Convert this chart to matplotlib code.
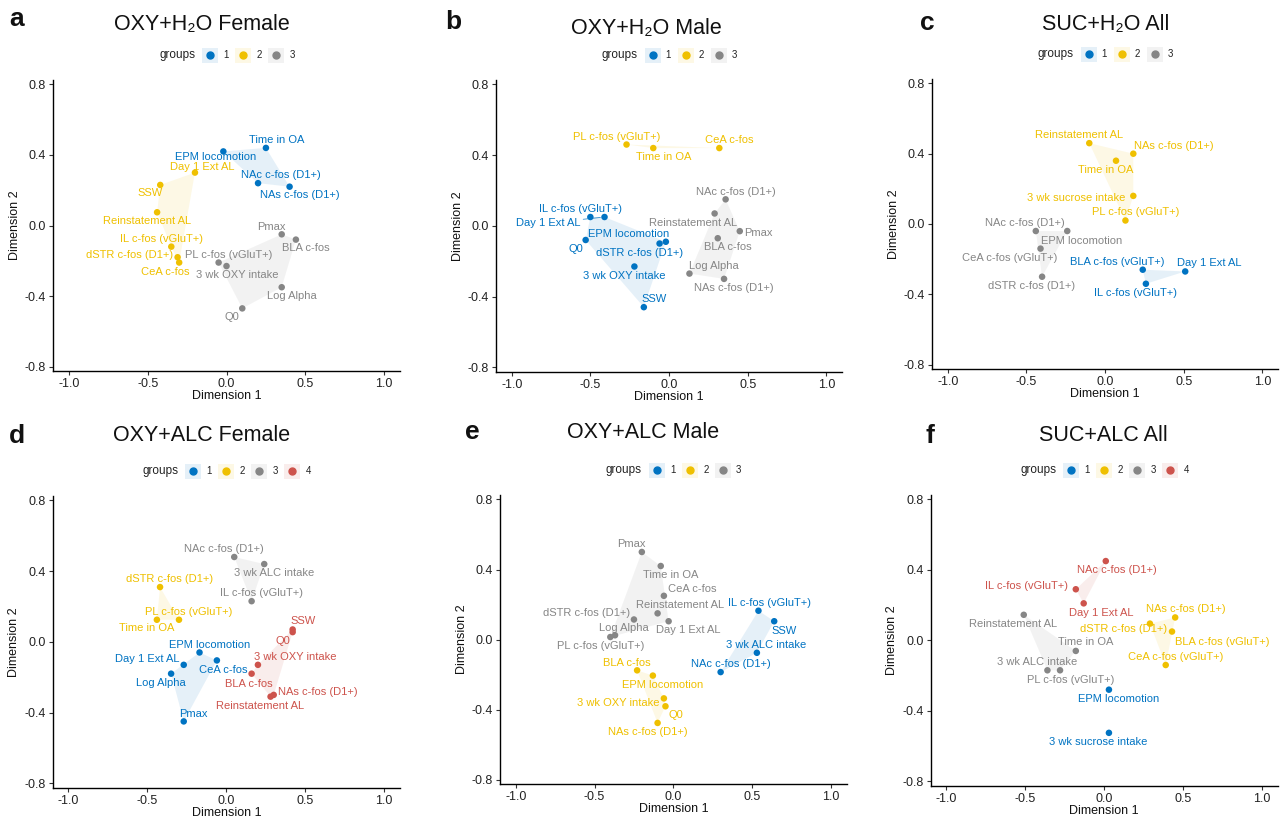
"""
MDS maps of behavioural / c-fos variables, six cohorts, convex hull per cluster
"""

### Import modules
import numpy as np
import matplotlib
matplotlib.use('Agg')
import matplotlib.pyplot as plt
from matplotlib.patches import Polygon, Rectangle
from matplotlib.lines import Line2D
from matplotlib.transforms import IdentityTransform

plt.rcParams['font.family'] = ['Liberation Sans', 'DejaVu Sans']

### Colours (ggsci jco) for cluster 1..4
group_colors = ['#0073C2', '#EFC000', '#868686', '#CD534C']

### Axis ticks
xticks = [-1.0, -0.5, 0.0, 0.5, 1.0]
xticklabels = ['-1.0', '-0.5', '0.0', '0.5', '1.0']
yticks = [-0.8, -0.4, 0.0, 0.4, 0.8]
yticklabels = ['-0.8', '-0.4', '0.0', '0.4', '0.8']

### a: OXY+H2O Female
a_names = ['EPM locomotion', 'Time in OA', 'NAc c-fos (D1+)', 'NAs c-fos (D1+)',
           'Day 1 Ext AL', 'SSW', 'Reinstatement AL', 'IL c-fos (vGluT+)',
           'dSTR c-fos (D1+)', 'CeA c-fos', 'Pmax', 'BLA c-fos',
           'PL c-fos (vGluT+)', '3 wk OXY intake', 'Log Alpha', 'Q0']
a_dim1 = [-0.02, 0.25, 0.20, 0.40, -0.20, -0.42, -0.44, -0.35, -0.31, -0.30,
          0.35, 0.44, -0.05, 0.00, 0.35, 0.10]
a_dim2 = [0.42, 0.44, 0.24, 0.22, 0.30, 0.23, 0.075, -0.12, -0.18, -0.21,
          -0.05, -0.08, -0.21, -0.23, -0.35, -0.47]
a_group = [1, 1, 1, 1, 2, 2, 2, 2, 2, 2, 3, 3, 3, 3, 3, 3]

### b: OXY+H2O Male
b_names = ['IL c-fos (vGluT+)', 'Day 1 Ext AL', 'Q0', 'EPM locomotion',
           'dSTR c-fos (D1+)', '3 wk OXY intake', 'SSW', 'PL c-fos (vGluT+)',
           'Time in OA', 'CeA c-fos', 'NAc c-fos (D1+)', 'Reinstatement AL',
           'Pmax', 'BLA c-fos', 'Log Alpha', 'NAs c-fos (D1+)']
b_dim1 = [-0.50, -0.41, -0.53, -0.02, -0.06, -0.22, -0.16, -0.27, -0.10, 0.32,
          0.36, 0.29, 0.45, 0.31, 0.13, 0.35]
b_dim2 = [0.05, 0.05, -0.08, -0.09, -0.10, -0.23, -0.46, 0.46, 0.44, 0.44,
          0.15, 0.07, -0.03, -0.07, -0.27, -0.30]
b_group = [1, 1, 1, 1, 1, 1, 1, 2, 2, 2, 3, 3, 3, 3, 3, 3]

### c: SUC+H2O All
c_names = ['Reinstatement AL', 'NAs c-fos (D1+)', 'Time in OA',
           '3 wk sucrose intake', 'PL c-fos (vGluT+)', 'NAc c-fos (D1+)',
           'EPM locomotion', 'CeA c-fos (vGluT+)', 'dSTR c-fos (D1+)',
           'BLA c-fos (vGluT+)', 'Day 1 Ext AL', 'IL c-fos (vGluT+)']
c_dim1 = [-0.10, 0.18, 0.07, 0.18, 0.13, -0.44, -0.24, -0.41, -0.40, 0.24,
          0.51, 0.26]
c_dim2 = [0.46, 0.40, 0.36, 0.16, 0.02, -0.04, -0.04, -0.14, -0.30, -0.26,
          -0.27, -0.34]
c_group = [2, 2, 2, 2, 2, 3, 3, 3, 3, 1, 1, 1]

### d: OXY+ALC Female
d_names = ['NAc c-fos (D1+)', '3 wk ALC intake', 'IL c-fos (vGluT+)',
           'dSTR c-fos (D1+)', 'Time in OA', 'PL c-fos (vGluT+)',
           'EPM locomotion', 'CeA c-fos', 'Day 1 Ext AL', 'Log Alpha', 'Pmax',
           'SSW', 'Q0', '3 wk OXY intake', 'BLA c-fos', 'NAs c-fos (D1+)',
           'Reinstatement AL']
d_dim1 = [0.05, 0.24, 0.16, -0.42, -0.44, -0.30, -0.17, -0.06, -0.27, -0.35,
          -0.27, 0.42, 0.42, 0.20, 0.16, 0.30, 0.28]
d_dim2 = [0.48, 0.44, 0.23, 0.31, 0.125, 0.125, -0.06, -0.105, -0.13, -0.18,
          -0.45, 0.07, 0.055, -0.13, -0.18, -0.30, -0.31]
d_group = [3, 3, 3, 2, 2, 2, 1, 1, 1, 1, 1, 4, 4, 4, 4, 4, 4]

### e: OXY+ALC Male
e_names = ['Pmax', 'Time in OA', 'CeA c-fos', 'Reinstatement AL',
           'Day 1 Ext AL', 'dSTR c-fos (D1+)', 'Log Alpha', 'PL c-fos (vGluT+)',
           'IL c-fos (vGluT+)', 'SSW', '3 wk ALC intake', 'NAc c-fos (D1+)',
           'BLA c-fos', 'EPM locomotion', '3 wk OXY intake', 'Q0',
           'NAs c-fos (D1+)']
e_dim1 = [-0.20, -0.08, -0.06, -0.10, -0.03, -0.25, -0.37, -0.40, 0.54, 0.64,
          0.53, 0.30, -0.23, -0.13, -0.06, -0.05, -0.10]
e_dim2 = [0.50, 0.42, 0.25, 0.15, 0.105, 0.115, 0.025, 0.015, 0.165, 0.105,
          -0.075, -0.185, -0.175, -0.205, -0.335, -0.38, -0.475]
e_group = [3, 3, 3, 3, 3, 3, 3, 3, 1, 1, 1, 1, 2, 2, 2, 2, 2]

### f: SUC+ALC All
f_names = ['NAc c-fos (D1+)', 'IL c-fos (vGluT+)', 'Day 1 Ext AL',
           'Reinstatement AL', 'Time in OA', '3 wk ALC intake',
           'PL c-fos (vGluT+)', 'NAs c-fos (D1+)', 'dSTR c-fos (D1+)',
           'BLA c-fos (vGluT+)', 'CeA c-fos (vGluT+)', 'EPM locomotion',
           '3 wk sucrose intake']
f_dim1 = [0.01, -0.18, -0.13, -0.51, -0.18, -0.36, -0.28, 0.45, 0.29, 0.43,
          0.39, 0.03, 0.03]
f_dim2 = [0.45, 0.29, 0.21, 0.145, -0.06, -0.17, -0.17, 0.13, 0.095, 0.05,
          -0.14, -0.28, -0.525]
f_group = [4, 4, 4, 3, 3, 3, 3, 2, 2, 2, 2, 1, 1]

### Label placement (pixel offsets of text centre from point, repel-style)
a_nudge = [(-8, -6), (10.7, 7.7), (23, 7.7), (10, -8.7), (7.7, 5.7), (-10, -8.3),
           (-10, -8.7), (-9.7, 8), (-47.7, 2), (-14.3, -9.3), (-10, 7.7),
           (10.3, -8.7), (10.3, 8), (11, -8.7), (10, -9), (-10, -8.7)]
b_nudge = [(-10.3, 8), (-56.3, -6), (-10, -8.7), (-37.7, 7.7), (-20, -9),
           (-10, -9.3), (10, 8), (-9.7, 8), (10, -8.7), (10, 7.7), (10, 7.3),
           (-22, -9.7), (18.7, -1.7), (10, -9), (24.7, 7.7), (10, -9)]
c_nudge = [(-10.7, 8.3), (41, 8), (-10.7, -9.3), (-56.7, -1.7), (10.7, 8.3),
           (-10.7, 8), (14.3, -10), (-31.3, -9.7), (-10.3, -9.3), (-25.7, 8),
           (24, 8.7), (-10.3, -9.7)]
d_nudge = [(-10.7, 8), (10, -8.7), (10, 8), (10, 7.7), (-10, -8.7), (10, 8),
           (10.3, 7.7), (6.3, -9.3), (-36.7, 6), (-10, -9), (10, 7.7),
           (10.3, 8), (-10, -8.7), (37.3, 7.7), (-3, -10.7), (44.3, 2.7),
           (-10, -9)]
e_nudge = [(-10.3, 8), (10, -8.7), (28.3, 7), (22.3, 8.3), (19.3, -9),
           (-47.7, 6.3), (8.7, 7.3), (-9.3, -9.3), (11.3, 8), (9.7, -9.3),
           (9.7, 7.7), (10, 7.7), (-10.3, 7.7), (10, -9), (-45.7, -4.7),
           (10, -8.3), (-10, -9)]
f_nudge = [(10.7, -9.3), (-49.3, 3.3), (17.7, -9.3), (-10.7, -9.3), (10.3, 8.7),
           (-10.7, 8.3), (10.3, -9.7), (10.3, 8.3), (-26.3, -5), (50.7, -10),
           (10, 8.3), (10, -9.3), (-10.3, -9.3)]

### Panel layout: letter, title, axes rect, letter xy, title xy (pixels)
W, H = 1284, 817
panels = [
    ('a', 'OXY+H\u2082O Female', a_names, a_dim1, a_dim2, a_group, a_nudge, 3,
     [53, 80, 400, 371], (17, 19), (202, 25), []),
    ('b', 'OXY+H\u2082O Male', b_names, b_dim1, b_dim2, b_group, b_nudge, 3,
     [496, 80, 842, 371.7], (453, 22), (646, 28), ['Day 1 Ext AL']),
    ('c', 'SUC+H\u2082O All', c_names, c_dim1, c_dim2, c_group, c_nudge, 3,
     [932, 79, 1278, 369], (927, 23), (1106, 25), []),
    ('d', 'OXY+ALC Female', d_names, d_dim1, d_dim2, d_group, d_nudge, 4,
     [52.7, 496, 400, 787.7], (17, 436), (202, 435), []),
    ('e', 'OXY+ALC Male', e_names, e_dim1, e_dim2, e_group, e_nudge, 3,
     [500, 495, 846.7, 784.3], (472, 432), (643, 432), []),
    ('f', 'SUC+ALC All', f_names, f_dim1, f_dim2, f_group, f_nudge, 4,
     [930.7, 495, 1277.7, 785.7], (930, 436), (1103, 435), []),
]

### Convex hull (monotone chain)
def convex_hull(pts):
    pts = sorted(set(pts))
    if len(pts) < 3:
        return pts
    def cross(o, a, b):
        return (a[0]-o[0])*(b[1]-o[1]) - (a[1]-o[1])*(b[0]-o[0])
    lower = []
    for p in pts:
        while len(lower) >= 2 and cross(lower[-2], lower[-1], p) <= 0:
            lower.pop()
        lower.append(p)
    upper = []
    for p in reversed(pts):
        while len(upper) >= 2 and cross(upper[-2], upper[-1], p) <= 0:
            upper.pop()
        upper.append(p)
    return lower[:-1] + upper[:-1]

### Create figure
fig = plt.figure(figsize=(W/100, H/100), dpi=100)
ident = IdentityTransform()

for (letter, title, names, dim1, dim2, group, nudge, ngroups, box,
     letter_xy, title_xy, segs) in panels:
    x0, y0, x1, y1 = box
    ax = fig.add_axes([x0/W, 1 - y1/H, (x1 - x0)/W, (y1 - y0)/H])
    dim1 = np.array(dim1)
    dim2 = np.array(dim2)
    group = np.array(group)

    ### Hulls
    for g in range(1, ngroups + 1):
        sel = group == g
        hull = convex_hull(list(zip(dim1[sel], dim2[sel])))
        if len(hull) >= 3:
            ax.add_patch(Polygon(hull, closed=True, facecolor=group_colors[g-1],
                                 alpha=0.1, edgecolor='none', zorder=1))

    ### Points
    ax.scatter(dim1, dim2, s=22, c=[group_colors[g-1] for g in group],
               edgecolors='none', zorder=3)

    ### Labels
    for name, xx, yy, g, (dx, dy) in zip(names, dim1, dim2, group, nudge):
        col = group_colors[g-1]
        arrow = None
        if name in segs:
            arrow = dict(arrowstyle='-', color=col, lw=0.6, shrinkA=0,
                         shrinkB=3, alpha=0.8)
        ax.annotate(name, xy=(xx, yy), xytext=(dx, dy),
                    textcoords='offset pixels', ha='center', va='center',
                    fontsize=8, color=col, zorder=4, arrowprops=arrow)

    ### Axes styling
    ax.set_xlim(-1.1, 1.1)
    ax.set_ylim(-0.825, 0.825)
    ax.set_xticks(xticks)
    ax.set_xticklabels(xticklabels)
    ax.set_yticks(yticks)
    ax.set_yticklabels(yticklabels)
    ax.spines['top'].set_visible(False)
    ax.spines['right'].set_visible(False)
    ax.spines['left'].set_linewidth(1.0)
    ax.spines['bottom'].set_linewidth(1.0)
    ax.tick_params(length=3, width=0.8, labelsize=9, colors='#333333',
                   pad=2)
    ax.tick_params(labelcolor='#222222')
    ax.set_xlabel('Dimension 1', fontsize=9, labelpad=0, color='#111111')
    ax.set_ylabel('Dimension 2', fontsize=9, labelpad=3, color='#111111')

    ### Title and panel letter
    fig.text(title_xy[0]/W, 1 - title_xy[1]/H, title, fontsize=15.5,
             ha='center', va='center', color='#111111')
    fig.text(letter_xy[0]/W, 1 - letter_xy[1]/H, letter, fontsize=19,
             fontweight='bold', ha='center', va='center', color='#111111')

    ### Legend (drawn in pixels above the panel)
    xc = (x0 + x1) / 2
    ly = H - (y0 - 25)
    keys = [xc + 16.5 + (i - (ngroups - 1) / 2) * 33 for i in range(ngroups)]
    fig.text(keys[0] - 15, ly, 'groups', transform=ident, ha='right',
             va='center', fontsize=8.5, color='#222222')
    for i, kx in enumerate(keys):
        fig.add_artist(Rectangle((kx - 8, ly - 7.5), 16, 15, transform=ident,
                                 facecolor=group_colors[i], alpha=0.1,
                                 edgecolor='none'))
        fig.add_artist(Line2D([kx], [ly], transform=ident, marker='o',
                              markersize=5, color=group_colors[i],
                              linestyle='none'))
        fig.text(kx + 16, ly, str(i + 1), transform=ident, ha='center',
                 va='center', fontsize=7, color='#222222')

### Save figure
plt.savefig('out.png', dpi=100)
